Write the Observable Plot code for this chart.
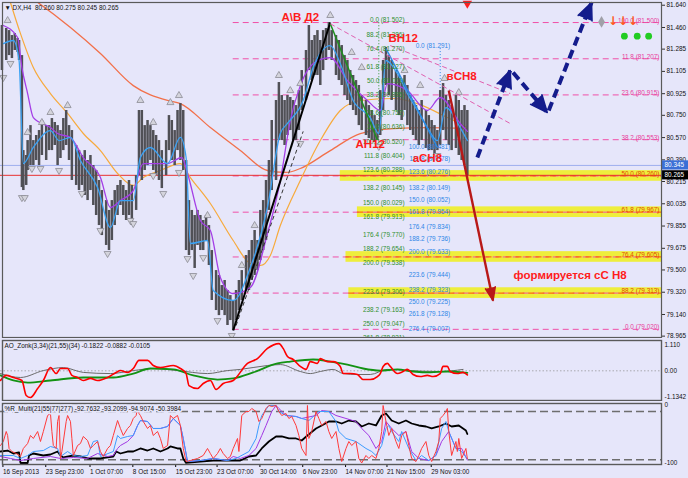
<!DOCTYPE html>
<html><head><meta charset="utf-8">
<script src="https://cdn.jsdelivr.net/npm/d3@7"></script>
<script src="https://cdn.jsdelivr.net/npm/@observablehq/plot@0.6"></script>
<style>
body{margin:0;background:#fff;}
#chart{position:relative;width:688px;height:478px;background:#e6e6fa;overflow:hidden;}
#chart svg{position:absolute;left:0;}
</style></head><body><div id="chart"></div>
<script>
// ---------- price bars: [bar, high, low] ----------
const candleHL = [
[1,81.476,81.112],[4,81.452,81.193],[6,81.435,81.233],[8,81.395,81.209],[10,81.411,81.274],[12,81.371,81.258],[13,81.355,81.193],[15,81.233,80.166],[16,80.465,80.142],[18,80.425,80.183],[19,80.546,80.304],[21,80.667,80.344],[23,80.546,80.344],[25,80.587,80.385],[27,80.627,80.344],[29,80.708,80.425],[32,80.667,80.385],[34,80.667,80.465],[36,80.724,80.465],[38,80.692,80.506],[40,80.667,80.344],[42,80.627,80.401],[44,80.724,80.465],[46,80.789,80.506],[48,80.667,80.385],[50,80.627,80.223],[53,80.506,80.183],[55,80.465,80.142],[57,80.425,80.183],[59,80.465,80.102],[61,80.385,80.061],[63,80.425,80.142],[65,80.344,80.021],[67,80.304,79.940],[69,80.223,79.859],[71,80.142,79.778],[74,80.061,79.698],[76,79.981,79.657],[78,80.061,79.738],[80,80.142,79.859],[82,80.183,79.940],[84,80.223,80.021],[86,80.183,79.940],[88,80.142,79.900],[90,80.223,79.940],[92,80.183,79.859],[95,80.263,79.981],[97,80.789,80.263],[99,80.789,80.223],[101,80.667,80.304],[103,80.708,80.344],[105,80.667,80.385],[107,80.627,80.304],[109,80.587,80.263],[111,80.546,80.223],[113,80.465,80.158],[116,80.546,80.263],[118,80.748,80.465],[120,80.708,80.385],[122,80.627,80.344],[124,80.789,80.465],[126,80.845,80.385],[128,80.789,80.304],[130,80.385,79.657],[132,80.061,79.617],[134,79.981,79.657],[136,79.940,79.512],[138,79.981,79.698],[140,79.940,79.657],[142,79.900,79.657],[144,79.940,79.738],[146,79.859,79.536],[148,79.657,79.253],[151,79.495,79.172],[153,79.455,79.131],[155,79.374,79.172],[157,79.415,79.131],[159,79.334,79.051],[161,79.293,79.091],[163,79.253,79.010],[165,79.334,79.091],[167,79.415,79.172],[169,79.495,79.253],[172,79.617,79.334],[174,79.657,79.334],[176,79.738,79.415],[178,79.819,79.455],[180,79.738,79.495],[182,79.981,79.576],[184,80.061,79.657],[186,80.223,79.738],[188,80.385,79.981],[190,80.708,80.142],[193,80.870,80.223],[195,81.015,80.546],[197,80.910,80.546],[199,80.870,80.506],[201,80.910,80.587],[203,80.894,80.627],[205,80.870,80.546],[207,80.829,80.546],[209,80.950,80.627],[211,81.112,80.789],[214,81.274,80.870],[216,81.476,81.112],[218,81.355,81.031],[220,81.395,81.072],[222,81.435,81.072],[224,81.355,80.991],[226,81.435,81.112],[228,81.452,81.193],[230,81.500,81.274],[232,81.435,81.193],[235,81.395,81.072],[237,81.355,81.031],[239,81.314,80.991],[241,81.233,80.910],[243,81.193,80.870],[245,81.112,80.829],[247,81.072,80.789],[249,81.031,80.748],[251,80.991,80.667],[253,80.910,80.627],[256,80.870,80.587],[258,80.829,80.562],[260,80.789,80.546],[262,80.748,80.530],[264,80.708,80.546],[266,80.950,80.587],[268,81.193,80.789],[270,81.298,80.991],[272,81.233,80.910],[274,81.193,80.870],[277,81.112,80.789],[279,81.072,80.748],[281,81.031,80.708],[283,81.072,80.789],[285,80.991,80.667],[287,80.910,80.627],[289,80.870,80.587],[291,80.829,80.546],[293,80.789,80.506],[295,80.870,80.546],[298,80.789,80.482],[300,80.748,80.465],[302,80.708,80.465],[304,80.667,80.425],[306,80.627,80.465],[308,80.950,80.506],[310,81.007,80.627],[312,80.910,80.546],[314,80.870,80.506],[316,80.829,80.465],[319,80.910,80.482],[321,80.870,80.425],[323,80.789,80.385],[325,80.829,80.344],[327,80.789,80.263]
];
// ---------- moving averages: [bar, price] ----------
const maRust = [[14,81.76],[24,81.68],[49,81.46],[70,81.25],[93,80.99],[117,80.87],[126,80.845],[147,80.651],[168,80.465],[187,80.304],[200,80.288],[210,80.32],[231,80.465],[252,80.603],[275,80.643],[299,80.651],[327,80.643]];
const maOrange = [[7,81.66],[14,81.41],[23,81.136],[35,80.926],[47,80.765],[58,80.603],[70,80.465],[82,80.28],[93,80.183],[100,80.247],[112,80.304],[126,80.36],[133,80.247],[147,80.037],[163,79.738],[175,79.552],[182,79.536],[189,79.617],[196,79.859],[210,80.223],[224,80.546],[238,80.789],[252,80.87],[275,80.886],[292,80.845],[313,80.732],[327,80.651]];
const maPurple = [[2,81.476],[12,81.379],[15,81.136],[19,80.926],[23,80.732],[35,80.651],[40,80.603],[49,80.571],[58,80.409],[70,80.247],[77,80.005],[84,80.061],[93,80.142],[100,80.36],[117,80.36],[127,80.409],[131,80.28],[140,79.9],[147,79.819],[154,79.439],[163,79.309],[175,79.358],[187,79.794],[196,80.223],[203,80.708],[210,80.99],[221,81.185],[231,81.217],[243,81.031],[257,80.87],[266,80.789],[271,81.007],[285,80.95],[299,80.789],[308,80.894],[322,80.684],[327,80.62]];
const maBlue = [[2,81.33],[9,81.355],[13,81.193],[16,80.36],[23,80.49],[35,80.627],[41,80.546],[49,80.571],[56,80.385],[68,80.166],[77,79.843],[84,80.061],[93,80.061],[98,80.409],[105,80.49],[117,80.36],[126,80.571],[130,80.409],[133,79.714],[145,79.738],[149,79.334],[163,79.253],[175,79.52],[187,80.005],[196,80.603],[201,80.684],[212,80.87],[219,81.136],[231,81.314],[238,81.169],[247,80.87],[259,80.732],[265,80.603],[270,81.193],[278,81.088],[285,80.926],[292,80.789],[299,80.651],[306,80.546],[312,80.813],[322,80.651],[327,80.546]];
// fractal markers [bar, price]
const fractalUp = [[5,81.516],[19,80.611],[29,80.692],[35,80.773],[47,80.829],[98,80.87],[107,80.692],[119,80.853],[125,80.91],[145,79.94],[169,79.536],[178,79.859],[195,81.072],[203,80.95],[210,81.007],[231,81.557],[246,81.258],[253,81.136],[283,81.112],[294,80.991],[311,81.048],[321,80.934]];
const fractalDown = [[2,81.056],[7,81.169],[15,80.085],[17,80.085],[22,80.32],[28,80.32],[41,80.304],[57,80.118],[70,79.819],[75,79.633],[91,79.9],[93,79.875],[107,80.263],[114,80.118],[125,80.288],[131,79.592],[135,79.455],[142,79.6],[152,79.091],[162,78.97],[210,80.522],[265,80.498],[306,80.425]];
// ---------- Fibonacci ----------
const fibStartBar = 163;
const fibPrice = [81.500,81.207,80.915,80.553,80.260,79.967,79.605,79.313,79.020];
const fibText = ["100.0 (81.500)","11.8 (81.207)","23.6 (80.915)","38.2 (80.553)","50.0 (80.260)","61.8 (79.967)","76.4 (79.605)","88.2 (79.313)","0.0 (79.020)"];
const bandPrice = [80.260,79.967,79.605,79.313];
const bandStartBar = [238,250,242,244];
const greenFibText = ["0.0 (81.502)","88.2 (81.386)","76.4 (81.270)","61.8 (81.127)","50.0 (81.011)","38.2 (80.895)","23.6 (80.752)","11.8 (80.636)","100.0 (80.520)","111.8 (80.404)","123.6 (80.288)","138.2 (80.145)","150.0 (80.029)","161.8 (79.913)","176.4 (79.770)","188.2 (79.654)","200.0 (79.538)","223.6 (79.306)","238.2 (79.163)","250.0 (79.047)","261.8 (78.931)"];
const greenFibPrice = [81.502,81.386,81.270,81.127,81.011,80.895,80.752,80.636,80.520,80.404,80.288,80.145,80.029,79.913,79.770,79.654,79.538,79.306,79.163,79.047,78.931];
const blueFibText = ["0.0 (81.291)","100.0 (80.481)","111.8 (80.378)","123.6 (80.276)","138.2 (80.149)","150.0 (80.052)","161.8 (79.954)","176.4 (79.834)","188.2 (79.736)","200.0 (79.633)","223.6 (79.444)","238.2 (79.323)","250.0 (79.225)","261.8 (79.128)","276.4 (79.007)"];
const blueFibPrice = [81.291,80.481,80.378,80.276,80.149,80.052,79.954,79.834,79.736,79.633,79.444,79.323,79.225,79.128,79.007];
const greenFibBar = 283, blueFibBar = 315;
// ---------- annotations ----------
const notes = [
  {t:"A\\B Д2", b:210, p:81.54},
  {t:"BH12", b:282, p:81.37},
  {t:"вCH8", b:323, p:81.064},
  {t:"AH12", b:259, p:80.514},
  {t:"aCH8", b:299, p:80.401},
  {t:"формируется cC H8", b:399, p:79.455}
];
const waveLines = {black:[163,79.01,231,81.5], green:[231,81.49,264,80.55], blue:[270,81.29,306,80.49]};
const channelLines = [[231,81.49,357,80.684],[273,81.314,357,80.926]];
const dashedRally = [[165,79.05,212,80.62]];
const navySegs = [[334,80.409,357,81.112],[359,81.096,383,80.773],[384,80.789,414,81.662]];
const navyAngles = [20.7,139.6,22.2];
const redArrow = [[314,80.95,345,79.253]];
const redArrowAngle = [168.1];
const signalArrows = [429,436,443];
const signalDiamond = [421];
const signalDots = [437,446,454];
const bidPrice = 80.265, askPrice = 80.345;
const priceTicks = [81.640,81.460,81.285,81.105,80.925,80.750,80.570,80.390,80.215,80.035,79.855,79.675,79.500,79.320,79.140,78.965];
// ---------- AO ----------
const aoRed = [[0,-0.42],[4,-0.20],[9,-0.29],[15,-0.42],[18,-1.07],[21,-1.16],[26,-0.77],[30,-0.42],[35,0.14],[39,-0.12],[42,0.10],[47,0.10],[50,-0.20],[54,-0.29],[58,-0.42],[63,-0.33],[68,-0.42],[75,-0.29],[81,-0.07],[84,0.01],[89,-0.07],[93,0.10],[97,0.45],[103,0.45],[107,0.23],[112,0.14],[121,0.23],[126,0.10],[130,-0.12],[132,-0.64],[138,-0.77],[142,-0.55],[147,-0.42],[151,-0.81],[156,-0.55],[163,-0.42],[173,0.32],[180,0.53],[187,0.97],[195,1.18],[198,0.97],[201,0.62],[205,0.49],[210,0.19],[214,0.06],[217,0.40],[222,0.32],[224,0.53],[229,0.40],[233,0.40],[238,0.19],[240,-0.12],[245,-0.12],[250,-0.16],[254,-0.38],[259,-0.38],[264,-0.25],[266,-0.12],[268,0.19],[271,0.32],[273,0.19],[278,-0.12],[282,-0.03],[285,0.06],[289,-0.16],[294,-0.25],[299,-0.20],[303,-0.25],[308,-0.12],[310,0.19],[313,0.19],[315,-0.03],[320,-0.12],[324,-0.07],[327,-0.18]];
const aoGreen = [[0,-0.20],[9,-0.42],[19,-0.51],[35,-0.42],[58,-0.29],[79,-0.29],[93,-0.12],[105,0.10],[121,0.06],[135,-0.20],[152,-0.38],[163,-0.33],[177,-0.07],[194,0.32],[203,0.40],[219,0.49],[231,0.40],[243,0.27],[254,0.10],[266,0.01],[278,0.06],[289,-0.03],[301,-0.07],[313,-0.03],[324,-0.07],[327,-0.09]];
const aoGray = [[0,-0.12],[14,-0.29],[30,0.01],[44,0.14],[58,-0.07],[77,-0.12],[93,0.01],[107,0.10],[124,0.01],[145,-0.12],[159,0.01],[168,0.06],[187,0.23],[196,0.27],[210,-0.03],[217,-0.12],[224,-0.03],[233,0.06],[240,-0.12],[250,-0.16],[259,-0.16],[271,0.06],[285,0.01],[308,-0.03],[324,0.06]];
const aoTicks = [1.11,0,-1.1342];
const aoTickText = ["1.110","0.00","-1.1342"];
// ---------- %R ----------
const wrRed = [[0,-70.1],[2,-63.3],[4,-46.2],[5,-53.0],[6,-75.2],[8,-80.4],[11,-83.8],[13,-87.2],[14,-88.9],[16,-75.2],[19,-66.7],[21,-53.0],[23,-58.1],[26,-46.2],[28,-63.3],[30,-46.2],[33,-18.8],[35,-15.4],[36,-46.2],[37,-70.1],[39,-75.2],[40,-29.1],[41,-18.8],[42,-92.3],[43,-80.4],[46,-29.1],[47,-18.8],[49,-29.1],[50,-58.1],[51,-87.2],[54,-70.1],[56,-66.7],[58,-54.7],[61,-61.6],[63,-75.2],[65,-70.1],[68,-63.3],[70,-80.4],[72,-88.9],[75,-75.2],[77,-70.1],[79,-53.0],[82,-27.4],[84,-41.0],[86,-53.0],[89,-41.0],[91,-35.9],[93,-23.9],[95,-18.8],[96,-6.8],[97,-15.4],[98,-18.8],[100,-29.1],[103,-41.0],[105,-35.9],[107,-53.0],[110,-46.2],[112,-58.1],[114,-75.2],[117,-70.1],[119,-18.8],[121,-23.9],[124,-18.8],[126,-35.9],[128,-75.2],[130,-97.5],[133,-95.8],[138,-92.3],[142,-87.2],[145,-75.2],[147,-83.8],[149,-92.3],[152,-83.8],[154,-75.2],[156,-83.8],[159,-92.3],[161,-88.9],[163,-75.2],[166,-58.1],[167,-80.4],[169,-18.8],[172,-12.0],[174,-12.0],[176,-6.8],[179,-12.0],[181,-29.1],[183,-23.9],[186,-6.8],[188,-1.7],[190,-3.4],[193,-1.7],[195,-12.0],[197,-18.8],[200,-15.4],[202,-23.9],[204,-20.5],[207,-35.9],[209,-53.0],[211,-75.2],[214,-87.2],[215,-1.7],[216,-58.1],[218,-46.2],[221,-12.0],[223,-23.9],[225,-35.9],[228,-29.1],[230,-46.2],[232,-58.1],[235,-46.2],[237,-75.2],[239,-97.5],[242,-75.2],[244,-63.3],[246,-70.1],[249,-63.3],[251,-92.3],[253,-100],[256,-87.2],[258,-92.3],[260,-87.2],[263,-92.3],[265,-75.2],[267,-46.2],[268,-1.7],[270,-29.1],[272,-53.0],[274,-41.0],[277,-63.3],[279,-75.2],[281,-53.0],[284,-46.2],[286,-70.1],[288,-92.3],[291,-97.5],[293,-87.2],[295,-75.2],[298,-63.3],[300,-87.2],[302,-97.5],[305,-80.4],[307,-63.3],[308,-23.9],[310,-18.8],[312,-12.0],[313,-6.8],[314,-46.2],[316,-87.2],[319,-63.3],[320,-80.4],[321,-58.1],[323,-92.3],[326,-75.2],[327,-92.8]];
const wrBlue = [[0,-87.2],[9,-87.2],[14,-92.3],[19,-87.2],[23,-80.4],[30,-78.7],[35,-71.8],[40,-75.2],[42,-88.9],[47,-80.4],[51,-87.2],[56,-88.9],[61,-87.2],[65,-63.3],[68,-61.6],[70,-88.9],[79,-80.4],[82,-53.0],[84,-58.1],[89,-54.7],[93,-53.0],[96,-35.9],[98,-27.4],[103,-29.1],[107,-41.0],[112,-41.0],[117,-37.6],[121,-23.9],[126,-35.9],[128,-58.1],[131,-97.5],[140,-95.8],[149,-92.3],[159,-95.8],[165,-92.3],[174,-80.4],[179,-58.1],[181,-35.9],[183,-18.8],[188,-1.7],[193,-1.7],[195,-12.0],[200,-18.8],[207,-20.5],[211,-23.9],[216,-27.4],[223,-12.0],[230,-12.0],[235,-29.1],[237,-46.2],[242,-58.1],[249,-63.3],[256,-75.2],[260,-80.4],[263,-87.2],[267,-70.1],[270,-41.0],[272,-35.9],[274,-46.2],[279,-63.3],[281,-46.2],[286,-75.2],[291,-95.8],[295,-87.2],[300,-95.8],[305,-87.2],[309,-41.0],[312,-29.1],[314,-46.2],[319,-75.2],[323,-80.4],[327,-93.2]];
const wrPurple = [[0,-88.9],[7,-92.3],[14,-95.8],[23,-92.3],[35,-88.9],[42,-92.3],[51,-90.6],[61,-92.3],[68,-83.8],[75,-88.9],[79,-87.2],[82,-75.2],[84,-70.1],[89,-63.3],[93,-53.0],[96,-35.9],[98,-27.4],[103,-29.1],[107,-41.0],[112,-41.0],[117,-37.6],[121,-23.9],[126,-35.9],[128,-58.1],[131,-97.5],[140,-95.8],[149,-92.3],[159,-95.8],[163,-88.9],[168,-92.3],[174,-87.2],[179,-75.2],[183,-53.0],[186,-35.9],[188,-23.9],[190,-12.0],[193,-1.7],[195,-6.8],[200,-18.8],[207,-20.5],[211,-23.9],[221,-18.8],[225,-10.3],[230,-12.0],[235,-18.8],[242,-23.9],[249,-29.1],[253,-41.0],[258,-53.0],[263,-75.2],[267,-63.3],[270,-29.1],[274,-41.0],[279,-53.0],[284,-46.2],[288,-80.4],[293,-92.3],[300,-95.8],[305,-87.2],[309,-63.3],[314,-46.2],[319,-75.2],[323,-75.2],[327,-94.9]];
const wrBlack = [[0,-80.4],[5,-78.7],[9,-83.8],[13,-82.1],[14,-100],[19,-100],[20,-87.2],[23,-83.8],[30,-87.2],[35,-85.5],[40,-80.4],[42,-87.2],[44,-90.6],[51,-87.2],[56,-88.9],[61,-92.3],[70,-92.3],[79,-88.9],[81,-80.4],[84,-83.8],[89,-80.4],[93,-80.4],[98,-75.2],[103,-78.7],[107,-75.2],[112,-80.4],[117,-75.2],[119,-71.8],[124,-75.2],[126,-75.2],[128,-92.3],[130,-100],[140,-97.5],[149,-95.8],[159,-95.8],[168,-95.8],[174,-88.9],[179,-87.2],[183,-75.2],[188,-63.3],[193,-54.7],[197,-54.7],[202,-58.1],[207,-58.1],[211,-61.6],[215,-53.0],[221,-41.0],[225,-35.9],[230,-29.1],[235,-29.1],[239,-32.5],[244,-27.4],[249,-29.1],[253,-37.6],[258,-32.5],[263,-35.9],[267,-18.8],[270,-15.4],[274,-27.4],[279,-32.5],[284,-27.4],[288,-32.5],[293,-35.9],[298,-37.6],[302,-41.0],[307,-37.6],[312,-32.5],[316,-37.6],[321,-35.9],[326,-44.5],[327,-50.4]];
const wrLevels = [-12, -94.5];
const wrTicks = [0, -100];
// ---------- time axis ----------
const timeTickBars = [1,31,62,92,122,151,181,211,241,270,301];
const timeTickText = ["16 Sep 2013","23 Sep 23:00","1 Oct 07:00","8 Oct 15:00","15 Oct 23:00","23 Oct 07:00","30 Oct 14:00","6 Nov 23:00","14 Nov 07:00","21 Nov 15:00","29 Nov 03:00"];

// ================= drawing =================
const FONT = "Liberation Sans, Arial, sans-serif";
const FS = 6.4;
const XEND = 463;
const common = {
  width: 688, marginLeft: 0, marginRight: 27,
  x: {domain: [0, XEND], axis: null},
  style: {background: "transparent", fontFamily: FONT, fontSize: FS + "px", overflow: "hidden"}
};
const X = d => d[0], Y = d => d[1];
const seg = {x1: d => d[0], y1: d => d[1], x2: d => d[2], y2: d => d[3]};
const idx = a => a.map((_, i) => i);
const frameStroke = "#5a5a5a";

const main = Plot.plot({
  ...common, height: 338, marginTop: 2, marginBottom: 1,
  y: {domain: [78.954, 81.662], axis: null},
  marks: [
    Plot.rect(idx(bandPrice), {x1: i => bandStartBar[i], x2: () => XEND, y1: i => bandPrice[i] - 0.043, y2: i => bandPrice[i] + 0.043, fill: "#eeee3c"}),
    Plot.ruleY(fibPrice, {y: d => d, x1: () => fibStartBar, x2: () => XEND, stroke: "#f050a8", strokeWidth: 1, strokeDasharray: "6,4"}),
    Plot.ruleY(idx(bandPrice), {y: i => bandPrice[i], x1: i => bandStartBar[i], x2: () => XEND, stroke: "#ff6a10", strokeWidth: 1.2, strokeDasharray: "6,4"}),
    Plot.ruleY([askPrice], {stroke: "#9fb0ee", strokeWidth: 1}),
    Plot.ruleY([bidPrice], {stroke: "#e83030", strokeWidth: 1}),
    Plot.ruleX([265], {x: d => d, y1: () => 80.52, y2: () => 81.502, stroke: "#2f962f", strokeDasharray: "1,2"}),
    Plot.ruleX([308], {x: d => d, y1: () => 80.481, y2: () => 81.291, stroke: "#2e86e6", strokeDasharray: "1,2"}),
    Plot.line(maRust, {x: X, y: Y, stroke: "#f2704a", strokeWidth: 1.3, curve: "monotone-x", clip: true}),
    Plot.line(maOrange, {x: X, y: Y, stroke: "#f7aa3c", strokeWidth: 1.2, curve: "monotone-x", clip: true}),
    Plot.ruleX(candleHL, {x: d => d[0], y1: d => d[1], y2: d => d[2], stroke: "#505056", strokeWidth: 2.5}),
    Plot.line(maPurple, {x: X, y: Y, stroke: "#a43ee6", strokeWidth: 1.3, curve: "monotone-x", clip: true}),
    Plot.line(maBlue, {x: X, y: Y, stroke: "#3aa2f4", strokeWidth: 1.3, curve: "monotone-x", clip: true}),
    Plot.dot(fractalUp, {x: X, y: Y, symbol: "triangle", r: 2.6, fill: "#d4d4dc", stroke: "#8c8c94", strokeWidth: 0.8}),
    Plot.dot(fractalDown, {x: X, y: Y, symbol: "triangle", r: 2.6, rotate: 180, fill: "#d4d4dc", stroke: "#8c8c94", strokeWidth: 0.8}),
    Plot.link(dashedRally, {...seg, stroke: "#333", strokeWidth: 1, strokeDasharray: "4,3"}),
    Plot.link([waveLines.black], {...seg, stroke: "#000", strokeWidth: 2}),
    Plot.link([waveLines.green], {...seg, stroke: "#1f8f1f", strokeWidth: 1.5}),
    Plot.link([waveLines.blue], {...seg, stroke: "#2a8ae4", strokeWidth: 1.5}),
    Plot.link(channelLines, {...seg, stroke: "#e060b0", strokeWidth: 1, strokeDasharray: "5,3"}),
    Plot.text(idx(greenFibText), {x: () => greenFibBar, y: i => greenFibPrice[i], text: i => greenFibText[i], textAnchor: "end", lineAnchor: "bottom", fill: "#2e8f2e", fontSize: FS}),
    Plot.text(idx(blueFibText), {x: () => blueFibBar, y: i => blueFibPrice[i], text: i => blueFibText[i], textAnchor: "end", lineAnchor: "bottom", fill: "#2f86e8", fontSize: FS}),
    Plot.text(idx(fibText), {x: () => XEND, y: i => fibPrice[i], text: i => fibText[i], textAnchor: "end", lineAnchor: "bottom", dx: -2, fill: i => bandPrice.includes(fibPrice[i]) ? "#e34a00" : "#e8409a", fontSize: FS}),
    Plot.text(notes, {x: d => d.b, y: d => d.p, text: d => d.t, fill: "#ff1c1c", fontSize: 11.5, fontWeight: "bold", fontFamily: FONT}),
    Plot.link(redArrow, {...seg, stroke: "#b81818", strokeWidth: 2.4}),
    Plot.vector(redArrow, {x: d => d[2], y: d => d[3], rotate: (d, i) => redArrowAngle[i], length: 13, r: 5, shape: "spike", anchor: "end", fill: "#b81818", stroke: "#b81818"}),
    Plot.link(navySegs, {...seg, stroke: "#141c8c", strokeWidth: 4, strokeDasharray: "9,5"}),
    Plot.vector(navySegs, {x: d => d[2], y: d => d[3], rotate: (d, i) => navyAngles[i], length: 17, r: 7.5, shape: "spike", anchor: "end", fill: "#141c8c", stroke: "#141c8c"}),
    Plot.dot(signalDiamond, {x: d => d, y: () => 81.505, symbol: "diamond", r: 3.6, fill: "#a0a0a8"}),
    Plot.text(signalArrows, {x: d => d, y: () => 81.515, text: () => "↓", fill: "#ff5a1e", fontSize: 12, fontWeight: "bold", fontFamily: "DejaVu Sans"}),
    Plot.dot(signalDots, {x: d => d, y: () => 81.39, r: 3.4, fill: "#22cc22"}),
    Plot.dot([327], {x: d => d, y: () => 81.655, symbol: "triangle", rotate: 180, r: 3.5, fill: "#ff2020"}),
    Plot.axisY(priceTicks, {anchor: "right", tickSize: 3, tickPadding: 2, tickFormat: d => d.toFixed(3), fontSize: FS, stroke: "#333", fill: "#111"}),
    Plot.rect([askPrice], {x1: () => XEND, x2: () => XEND + 19, y1: d => d - 0.037, y2: d => d + 0.037, fill: "#3b6fd6"}),
    Plot.text([askPrice], {x: () => XEND, y: d => d, text: d => d.toFixed(3), textAnchor: "start", dx: 3, fill: "#fff", fontSize: FS}),
    Plot.rect([bidPrice], {x1: () => XEND, x2: () => XEND + 19, y1: d => d - 0.037, y2: d => d + 0.037, fill: "#000"}),
    Plot.text([bidPrice], {x: () => XEND, y: d => d, text: d => d.toFixed(3), textAnchor: "start", dx: 3, fill: "#fff", fontSize: FS}),
    Plot.frame({stroke: frameStroke, strokeWidth: 1.2, insetLeft: 2}),
    Plot.text(["▼ DX,H4  80.260 80.275 80.245 80.265"], {frameAnchor: "top-left", dx: 4, dy: 3, fill: "#111", fontSize: FS})
  ]
});

const ao = Plot.plot({
  ...common, height: 63, marginTop: 2, marginBottom: 1,
  y: {domain: [-1.288, 1.314], axis: null},
  marks: [
    Plot.ruleY([0], {stroke: "#a8a8b0", strokeDasharray: "1.5,2"}),
    Plot.line(aoGray, {x: X, y: Y, stroke: "#6a6a6a", strokeWidth: 1, curve: "monotone-x"}),
    Plot.line(aoGreen, {x: X, y: Y, stroke: "#139213", strokeWidth: 1.8, curve: "monotone-x"}),
    Plot.line(aoRed, {x: X, y: Y, stroke: "#ff0000", strokeWidth: 1.6, curve: "monotone-x"}),
    Plot.axisY(aoTicks, {anchor: "right", tickSize: 0, tickPadding: 3, tickFormat: d => aoTickText[aoTicks.indexOf(d)], fontSize: FS, fill: "#111"}),
    Plot.frame({stroke: frameStroke, strokeWidth: 1.4, insetLeft: 2}),
    Plot.text(["AO_Zonk(3,34)(21,55)(34) -0.1822 -0.0882 -0.0105"], {frameAnchor: "top-left", dx: 4, dy: 3, fill: "#111", fontSize: FS})
  ]
});

const wr = Plot.plot({
  ...common, height: 77, marginTop: 2, marginBottom: 14,
  y: {domain: [-102.6, 1.7], axis: null},
  marks: [
    Plot.ruleY(wrLevels, {stroke: "#6e6e6e", strokeWidth: 1.3, strokeDasharray: "8,4"}),
    Plot.line(wrBlack, {x: X, y: Y, stroke: "#000", strokeWidth: 1.8}),
    Plot.line(wrPurple, {x: X, y: Y, stroke: "#a238e4", strokeWidth: 1}),
    Plot.line(wrBlue, {x: X, y: Y, stroke: "#3d9cff", strokeWidth: 1}),
    Plot.line(wrRed, {x: X, y: Y, stroke: "#ff3a3a", strokeWidth: 1}),
    Plot.axisY(wrTicks, {anchor: "right", tickSize: 0, tickPadding: 3, tickFormat: d => String(d), fontSize: FS, fill: "#111"}),
    Plot.axisX(timeTickBars, {anchor: "bottom", tickSize: 3, tickPadding: 2, textAnchor: "start", dx: 1, tickFormat: d => timeTickText[timeTickBars.indexOf(d)], fontSize: FS, fill: "#111"}),
    Plot.frame({stroke: frameStroke, strokeWidth: 1.4, insetLeft: 2}),
    Plot.text(["%R_Multi(21|55|77|277) -92.7632 -93.2099 -94.9074 -50.3984"], {frameAnchor: "top-left", dx: 4, dy: 3, fill: "#111", fontSize: FS, stroke: "#e6e6fa", strokeWidth: 3, paintOrder: "stroke"})
  ]
});

const host = document.getElementById("chart");
[[main, 0], [ao, 338], [wr, 401]].forEach(([svg, top]) => {
  svg.style.top = top + "px";
  host.appendChild(svg);
});
</script>
</body></html>
